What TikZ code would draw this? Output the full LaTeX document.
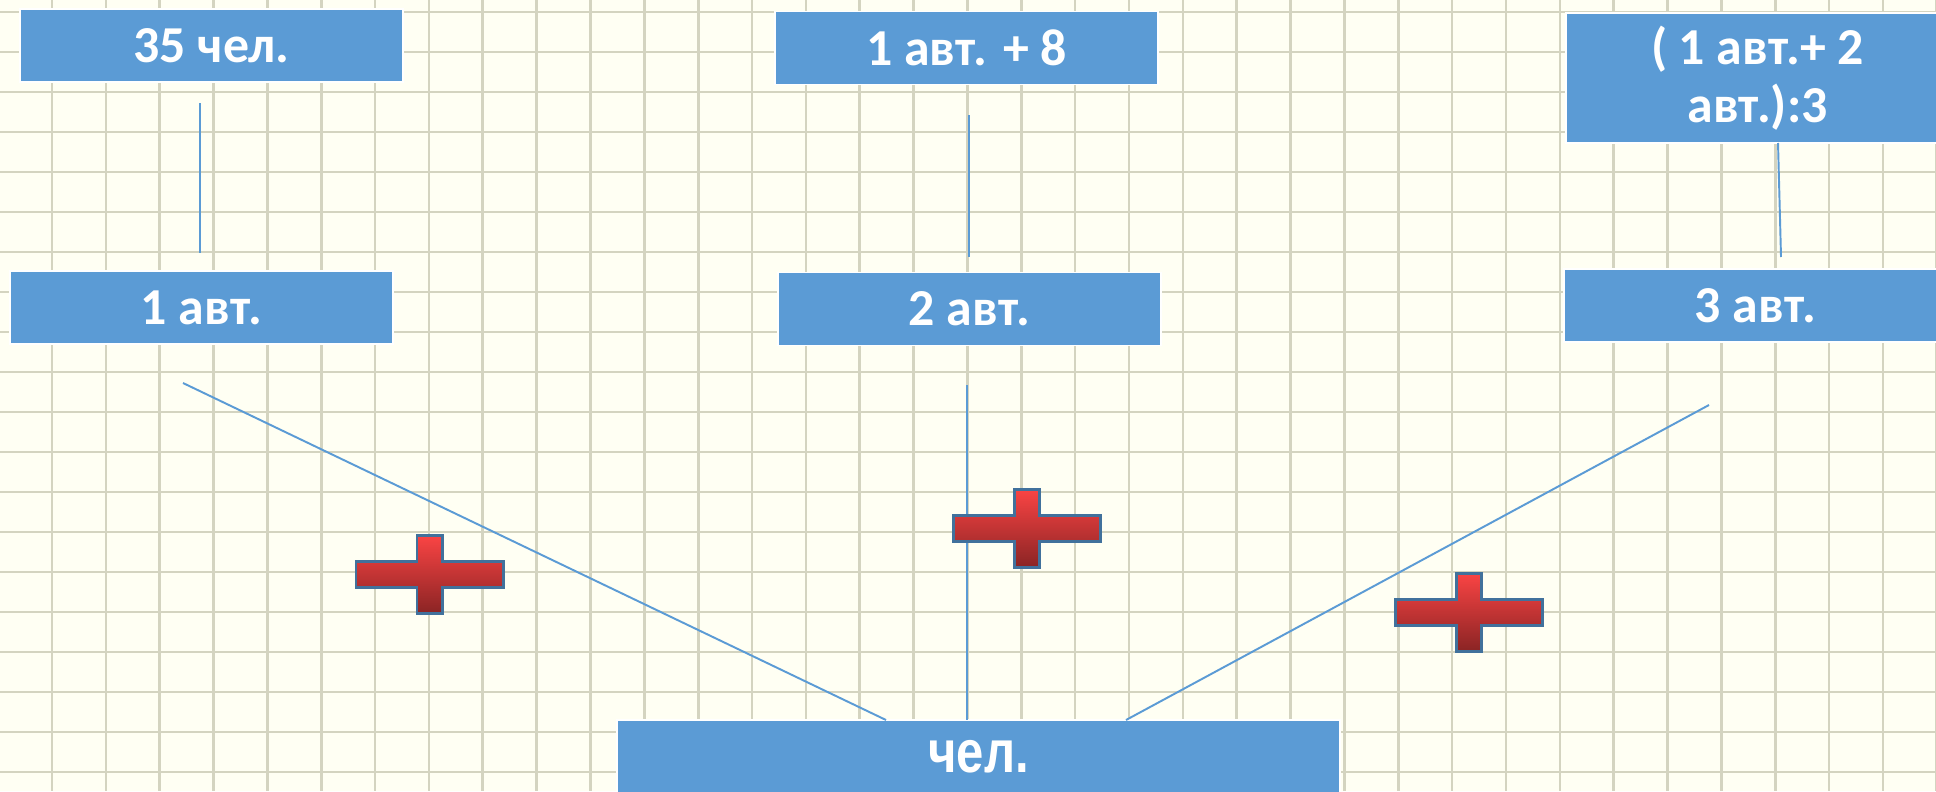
\documentclass[tikz,border=0pt]{standalone}
\usepackage{fontspec}
\setmainfont{Carlito}
\newfontfamily\narrowfont{Liberation Sans}[FakeStretch=0.82]
\usepackage{xcolor}
\definecolor{boxblue}{HTML}{5B9BD5}
\definecolor{paper}{HTML}{FFFFF3}
\definecolor{gridgray}{HTML}{D4D4C0}
\definecolor{plustop}{HTML}{FA4444}
\definecolor{plusmid}{HTML}{CC3838}
\definecolor{plusbot}{HTML}{8A2424}
\definecolor{plusedge}{HTML}{41719C}
\tikzset{
  box/.style    ={draw=white, line width=1.1pt, fill=boxblue, text=white, inner sep=0pt, align=center,
                  font=\bfseries\fontsize{29.5}{33}\selectfont, minimum width=7.66cm, minimum height=1.46cm},
  bigbox/.style ={box, font=\narrowfont\bfseries\fontsize{34}{38}\selectfont, minimum width=14.46cm, minimum height=1.48cm},
  link/.style   ={draw=boxblue, line width=1.1pt},                 % plain connector, no tips
  gridline/.style={draw=gridgray, line width=1.5pt},
  plusmark/.pic ={
    \path[draw=plusedge, line width=1.7pt, top color=plustop, middle color=plusmid, bottom color=plusbot]
      (-73.5,-13) -- (-12.5,-13) -- (-12.5,-39) -- (12.5,-39) -- (12.5,-13) -- (73.5,-13)
      -- (73.5,13) -- (12.5,13) -- (12.5,39) -- (-12.5,39) -- (-12.5,13) -- (-73.5,13) -- cycle;
  },
}

\begin{document}
\begin{tikzpicture}[x=0.02cm, y=-0.02cm]
  \useasboundingbox (0,0) rectangle (1936,791);
  \clip (0,0) rectangle (1936,791);
  % squared paper
  \fill[paper] (0,0) rectangle (1936,791);
  \foreach \k in {-1,...,35} \draw[gridline] ({52+53.85*\k},0) -- ({52+53.85*\k},791);
  \foreach \k in {0,...,19}  \draw[gridline] (0,{12+40*\k}) -- (1936,{12+40*\k});

  \node[box]    (t1)   at (211.5,45.5) {35 чел.};
  \node[box]    (t2)   at (966.5,48)   {1 авт. + 8};
  \node[box, minimum height=2.6cm] (t3) at (1757.5,78) {( 1 авт.+ 2\\авт.):3};
  \node[box]    (b1)   at (201.5,307.5) {1 авт.};
  \node[box]    (b2)   at (969.5,309)   {2 авт.};
  \node[box]    (b3)   at (1755.5,305.5) {3 авт.};
  \node[bigbox] (chel) at (978.5,757)   {чел.};

  % free ends of the connectors
  \coordinate (s1) at (200,103);  \coordinate (e1) at (200,253);
  \coordinate (s2) at (969,115);  \coordinate (e2) at (969,257);
  \coordinate (s3) at (1778,143); \coordinate (e3) at (1781,257);
  \coordinate (u1) at (183,383);  \coordinate (v1) at (886,720);
  \coordinate (u2) at (967,385);  \coordinate (v2) at (967,720);
  \coordinate (u3) at (1709,405); \coordinate (v3) at (1126,720);

  \draw[link] (s1) -- (e1);
  \draw[link] (s2) -- (e2);
  \draw[link] (s3) -- (e3);
  \draw[link] (u1) -- (v1);
  \draw[link] (u2) -- (v2);
  \draw[link] (u3) -- (v3);

  \pic at (429.5,574.5) {plusmark};
  \pic at (1027,528.5)  {plusmark};
  \pic at (1468.5,612)  {plusmark};
\end{tikzpicture}
\end{document}
